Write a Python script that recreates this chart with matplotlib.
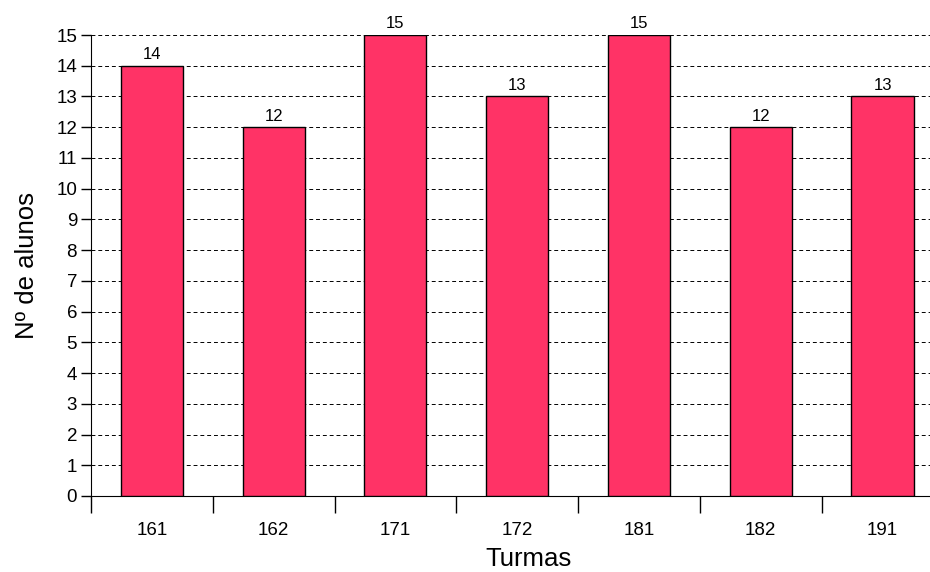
import matplotlib.pyplot as plt
from matplotlib.ticker import FixedLocator, NullFormatter

plt.rcParams['font.family'] = ['Liberation Sans', 'DejaVu Sans']

turmas = ["161", "162", "171", "172", "181", "182", "191"]
alunos = [14, 12, 15, 13, 15, 12, 13]

fig = plt.figure(figsize=(9.3, 5.72), dpi=100)
ax = fig.add_axes([0.0978, 0.1329, 0.9022, 0.8059])

x = range(len(turmas))
bars = ax.bar(x, alunos, width=0.51, color="#FF3366", edgecolor="black", linewidth=1, zorder=3)
for b, v in zip(bars, alunos):
    ax.text(b.get_x() + b.get_width() / 2, v + 0.12, str(v), ha="center", va="bottom", fontsize=12)

ax.set_ylim(0, 15)
ax.set_xlim(-0.5, 6.39)
ax.set_yticks(range(0, 16))
ax.tick_params(axis="y", labelsize=13.5, length=7, width=1, direction="out", pad=3)

ax.set_xticks(list(x))
ax.set_xticklabels(turmas, fontsize=13.5)
ax.tick_params(axis="x", which="major", length=0, pad=19)
ax.xaxis.set_minor_locator(FixedLocator([i - 0.5 for i in range(len(turmas) + 1)]))
ax.xaxis.set_minor_formatter(NullFormatter())
ax.tick_params(axis="x", which="minor", length=12, width=1, direction="out")

ax.yaxis.grid(True, linestyle=(0, (4, 3)), color="black", linewidth=0.7, zorder=0)
ax.set_axisbelow(True)
for s in ["top", "right"]:
    ax.spines[s].set_visible(False)

ax.set_xlabel("Turmas", fontsize=18.5, va="center")
ax.xaxis.set_label_coords(0.522, -0.137)
ax.set_ylabel("Nº de alunos", fontsize=18.5, va="center")
ax.yaxis.set_label_coords(-0.0763, 0.5)

fig.savefig("out.png", dpi=100)
